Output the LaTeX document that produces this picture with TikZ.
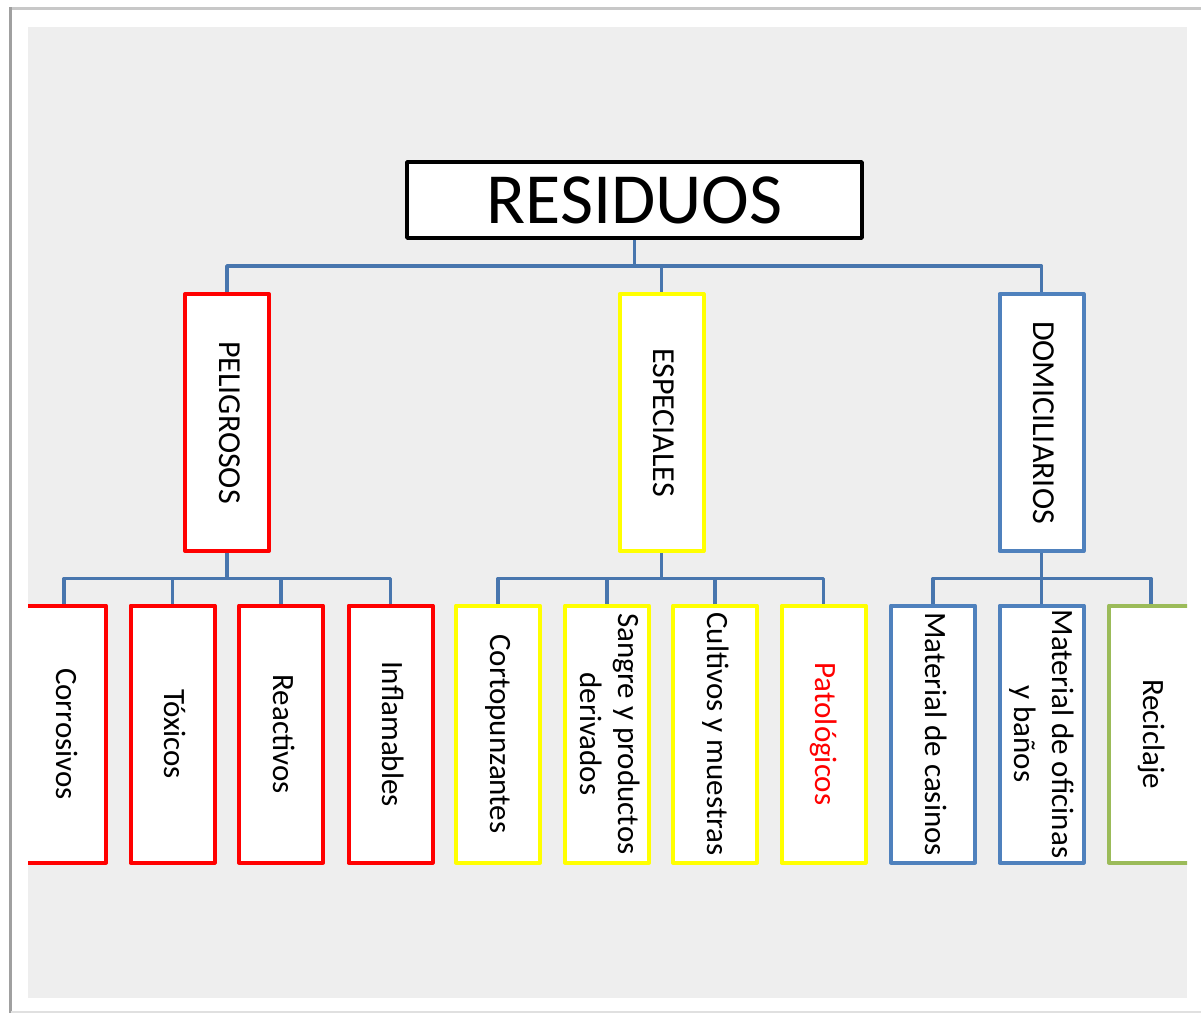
\documentclass[tikz,border=0pt]{standalone}
\usepackage{fontspec}
\setmainfont{Carlito}
\usepackage{graphicx}
\definecolor{bggray}{RGB}{238,238,238}
\definecolor{framegray}{RGB}{160,160,160}
\definecolor{framelight}{RGB}{200,200,200}
\definecolor{conncol}{RGB}{72,118,174}
\definecolor{rojo}{RGB}{255,0,0}
\definecolor{amarillo}{RGB}{255,255,0}
\definecolor{azul}{RGB}{79,129,189}
\definecolor{verde}{RGB}{155,187,89}
\newcommand{\vtext}[1]{\rotatebox[origin=c]{-90}{\begin{tabular}{@{}c@{}}#1\end{tabular}}}
\begin{document}
\begin{tikzpicture}[x=1pt,y=-1pt,
  vbox/.style={draw, fill=white, line width=4pt, line join=round,
    minimum width=84pt, minimum height=257pt, inner sep=0pt,
    font=\fontsize{31}{38}\selectfont},
  midbox/.style={vbox, font=\fontsize{32}{39}\selectfont},
  conn/.style={draw=conncol, line width=3.8pt, line join=round}]
\useasboundingbox (0,0) rectangle (1201,1013);
\fill[white] (0,0) rectangle (1201,1013);
% outer frame
\draw[framelight, line width=3pt] (10.5,8.5) -- (1201,8.5);
\draw[framegray, line width=3pt] (10.5,1013) -- (10.5,7);
\draw[black!12, line width=1.5pt] (10.5,1012) -- (1201,1012);
\begin{scope}
\clip (28,27) rectangle (1187,998);
\fill[bggray] (28,27) rectangle (1187,998);
% root
\node[draw=black, fill=white, line width=3.8pt, line join=round,
  minimum width=455pt, minimum height=76pt, inner sep=0pt,
  font=\fontsize{72}{84}\selectfont] (res) at (634.5,200) {RESIDUOS};
% second level
\node[midbox, draw=rojo] (peli) at (227,422.5) {\vtext{PELIGROSOS}};
\node[midbox, draw=amarillo] (espe) at (661.5,422.5) {\vtext{ESPECIALES}};
\node[midbox, draw=azul] (domi) at (1041.5,422.5) {\vtext{DOMICILIARIOS}};
% leaves
\node[vbox, draw=rojo] (corr) at (64,734) {\vtext{Corrosivos}};
\node[vbox, draw=rojo] (toxi) at (172.5,734) {\vtext{Tóxicos}};
\node[vbox, draw=rojo] (reac) at (281,734) {\vtext{Reactivos}};
\node[vbox, draw=rojo] (infl) at (390.5,734) {\vtext{Inflamables}};
\node[vbox, draw=amarillo] (cort) at (498,734) {\vtext{Cortopunzantes}};
\node[vbox, draw=amarillo] (sang) at (607,734) {\vtext{Sangre y productos\\derivados}};
\node[vbox, draw=amarillo] (cult) at (715,734) {\vtext{Cultivos y muestras}};
\node[vbox, draw=amarillo] (pato) at (823.5,734) {\vtext{\textcolor{rojo}{Patológicos}}};
\node[vbox, draw=azul] (casi) at (933,734) {\vtext{Material de casinos}};
\node[vbox, draw=azul] (ofic) at (1041.5,734) {\vtext{Material de oficinas\\y baños}};
\node[vbox, draw=verde] (reci) at (1151,734) {\vtext{Reciclaje}};
% connectors level 1
\coordinate (b0) at (634.5,266);
\draw[conn] (res.south) -- (b0);
\draw[conn] (b0) -| (peli.north);
\draw[conn] (b0) -| (espe.north);
\draw[conn] (b0) -| (domi.north);
% connectors level 2
\coordinate (b1) at (227,578.5);
\coordinate (b2) at (661.5,578.5);
\coordinate (b3) at (1041.5,578.5);
\draw[conn] (peli.south) -- (b1);
\draw[conn] (espe.south) -- (b2);
\draw[conn] (domi.south) -- (b3);
\foreach \c in {corr,toxi,reac,infl} {\draw[conn] (b1) -| (\c.north);}
\foreach \c in {cort,sang,cult,pato} {\draw[conn] (b2) -| (\c.north);}
\foreach \c in {casi,ofic,reci} {\draw[conn] (b3) -| (\c.north);}
\end{scope}
\end{tikzpicture}
\end{document}
